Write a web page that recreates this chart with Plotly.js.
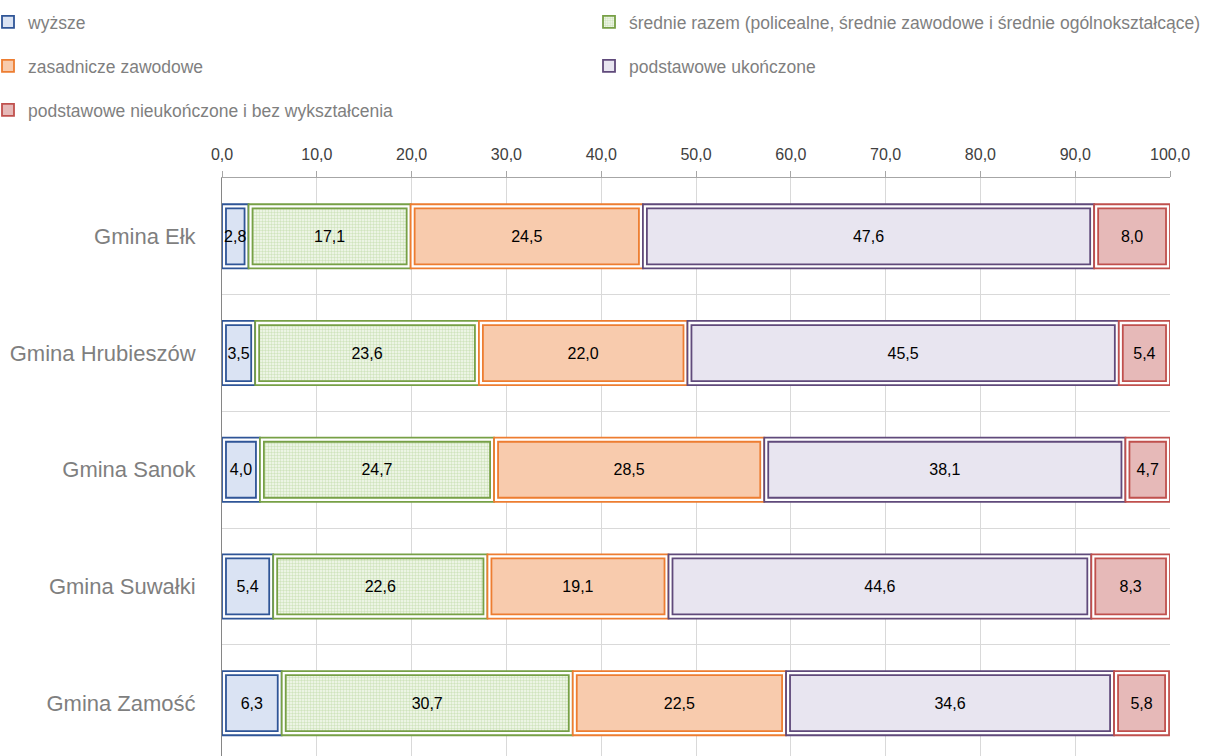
<!DOCTYPE html>
<html>
<head>
<meta charset="utf-8">
<script src="https://cdn.plot.ly/plotly-3.0.1.min.js"></script>
<style>html,body{margin:0;padding:0;background:#fff;} #chart{width:1207px;height:756px;}</style>
</head>
<body>
<div id="chart"></div>
<script>
// ---- data ----
const categories = ['Gmina Ełk', 'Gmina Hrubieszów', 'Gmina Sanok', 'Gmina Suwałki', 'Gmina Zamość'];
const wyzsze       = [2.8, 3.5, 4.0, 5.4, 6.3];
const srednie      = [17.1, 23.6, 24.7, 22.6, 30.7];
const zasadnicze   = [24.5, 22.0, 28.5, 19.1, 22.5];
const ukonczone    = [47.6, 45.5, 38.1, 44.6, 34.6];
const nieukonczone = [8.0, 5.4, 4.7, 8.3, 5.8];
const seriesNames = [
  'wyższe',
  'średnie razem (policealne, średnie zawodowe i średnie ogólnokształcące)',
  'zasadnicze zawodowe',
  'podstawowe ukończone',
  'podstawowe nieukończone i bez wykształcenia'
];
const xTicks = [0, 10, 20, 30, 40, 50, 60, 70, 80, 90, 100];

// ---- styles ----
const FONT = 'Liberation Sans, Arial, sans-serif';
const seriesValues = [wyzsze, srednie, zasadnicze, ukonczone, nieukonczone];
const lineColors = ['#2f5597', '#77a046', '#ed7d31', '#604a7b', '#c0504d'];
const fillColors = ['#dae3f3', '#eef5e6', '#f8cbad', '#e8e5f0', '#e6b9b8'];
const legendIds  = ['legend', 'legend2', 'legend3', 'legend4', 'legend5'];
const OUTER_W = 0.55, INNER_W = 0.48, INSET = 0.42, LW = 1.8;

const fmt = v => v.toFixed(1).replace('.', ',');

const outerTraces = [], innerTraces = [];
const cum = categories.map(() => 0);
seriesValues.forEach((vals, s) => {
  const base = cum.slice();
  outerTraces.push({
    type: 'bar', orientation: 'h', y: categories, x: vals, base: base,
    width: OUTER_W, showlegend: false, hoverinfo: 'skip',
    marker: {color: '#ffffff', line: {color: lineColors[s], width: LW}}
  });
  const marker = {color: fillColors[s], line: {color: lineColors[s], width: LW}};
  if (s === 1) {
    marker.pattern = {shape: '.', fgcolor: '#d0e4bd', bgcolor: '#f6faf2', size: 3, solidity: 0.5, fillmode: 'replace'};
  }
  innerTraces.push({
    type: 'bar', orientation: 'h', y: categories,
    x: vals.map(v => v - 2 * INSET), base: base.map(b => b + INSET),
    width: INNER_W, name: seriesNames[s], legend: legendIds[s],
    text: vals.map(fmt), textposition: 'inside', insidetextanchor: 'middle',
    constraintext: 'none', cliponaxis: false,
    textangle: 0, textfont: {family: FONT, size: 16, color: '#000000'},
    hoverinfo: 'skip', marker: marker
  });
  vals.forEach((v, i) => { cum[i] += v; });
});

// legends placed in paper coordinates (plot area: x 222..1170, y 178..756)
const PW = 948, PH = 578, PL = 222, PB = 756;
const legendAt = (pxLeft, pyMid) => ({
  orientation: 'h', xref: 'paper', yref: 'paper',
  x: (pxLeft - PL) / PW, y: (PB - pyMid) / PH,
  xanchor: 'left', yanchor: 'middle',
  font: {family: FONT, size: 17.5, color: '#7f7f7f'}, bgcolor: 'rgba(0,0,0,0)',
  itemclick: false, itemdoubleclick: false
});

const layout = {
  width: 1207, height: 756,
  margin: {l: 222, r: 37, t: 178, b: 0, pad: 0, autoexpand: false},
  paper_bgcolor: '#ffffff', plot_bgcolor: '#ffffff',
  barmode: 'overlay', separators: ', ',
  font: {family: FONT},
  showlegend: true,
  legend:  legendAt(-12, 22),
  legend2: legendAt(589, 22),
  legend3: legendAt(-12, 66),
  legend4: legendAt(589, 66),
  legend5: legendAt(-12, 110),
  xaxis: {
    side: 'top', range: [0, 100], tickvals: xTicks, tickformat: '.1f',
    showgrid: true, gridcolor: '#d9d9d9', gridwidth: 1, zeroline: false,
    showline: true, linecolor: '#a6a6a6', linewidth: 1,
    ticks: 'outside', ticklen: 6, tickcolor: '#a6a6a6', ticklabelstandoff: 5,
    tickfont: {family: FONT, size: 16, color: '#404040'}, fixedrange: true
  },
  yaxis: {
    type: 'category', categoryorder: 'array', categoryarray: categories,
    range: [4.453, -0.5], tickson: 'boundaries',
    showgrid: true, gridcolor: '#d9d9d9', gridwidth: 1, zeroline: false,
    showline: true, linecolor: '#868686', linewidth: 1, ticks: '',
    ticklabelstandoff: 21,
    tickfont: {family: FONT, size: 22, color: '#7f7f7f'}, fixedrange: true
  }
};

Plotly.newPlot('chart', outerTraces.concat(innerTraces), layout, {staticPlot: true, displayModeBar: false});
</script>
</body>
</html>
